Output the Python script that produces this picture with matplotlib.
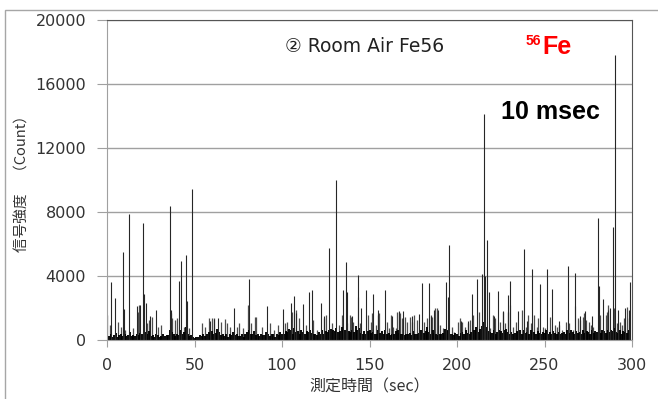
import matplotlib.pyplot as plt
from matplotlib.patches import Rectangle

# tall peaks: time (sec), counts
spike_t = [2.3, 4.8, 9.3, 9.6, 12.8, 17.3, 19.0, 20.8, 21.4, 22.0, 24.5, 27.8,
           36.0, 36.6, 41.0, 42.3, 45.1, 45.5, 48.6, 59.0, 61.0, 63.2, 72.6,
           81.1, 91.2, 100.4, 105.0, 106.9, 108.0, 112.0, 115.4, 117.3, 122.3,
           124.0, 127.0, 130.7, 135.0, 136.6, 137.0, 140.0, 143.2, 143.6, 145.0,
           148.0, 152.2, 155.0, 158.7, 163.0, 167.0, 169.0, 174.0, 178.0, 179.8,
           184.2, 185.0, 187.0, 189.0, 193.7, 195.2, 195.0, 202.0, 206.0, 208.8,
           211.2, 214.3, 215.4, 215.9, 217.3, 218.0, 221.0, 223.4, 226.0, 229.0,
           230.5, 230.0, 235.0, 238.1, 240.0, 243.0, 247.6, 251.4, 254.1, 258.0,
           263.2, 267.6, 267.5, 270.0, 273.0, 277.0, 280.4, 280.9, 283.2, 286.0,
           287.5, 289.0, 290.3, 292.0, 296.0, 298.0, 299.0]
spike_h = [3600, 2600, 5500, 1950, 7870, 2100, 2200, 7290, 2900, 2300, 1500, 1900,
           8370, 1900, 3700, 4960, 5330, 2440, 9420, 1200, 1300, 1400, 2000,
           3790, 2130, 1950, 2300, 2750, 1700, 2250, 3000, 3100, 2300,
           1500, 5730, 10000, 3100, 4900, 3000, 1500, 4040, 2700, 2000,
           3100, 2900, 1900, 3100, 1500, 1800, 1800, 1500, 1600, 3540,
           3540, 1500, 1900, 1900, 3600, 5940, 2700, 1200, 1200, 2900,
           3800, 4100, 14100, 4000, 6250, 3000, 1500, 3080, 1800, 2800,
           3700, 2200, 1800, 5670, 1200, 4420, 3500, 4420, 3200, 1200,
           4620, 4170, 2100, 1500, 1800, 1500, 7600, 3400, 2560, 1900,
           2000, 7080, 17800, 1900, 2000, 1900, 3600]

# medium peaks (about 500-2200 counts)
mid_t = [0.0, 1.5, 6.0, 7.8, 10.5, 15.0, 17.7, 18.5, 22.8, 24.1, 25.5, 29.3,
         31.0, 36.3, 37.3, 38.6, 39.8, 44.0, 47.0, 54.1, 56.0, 58.3, 59.8, 61.4,
         65.0, 67.2, 68.7, 70.0, 74.3, 75.6, 77.5, 80.5, 82.2, 84.3, 85.2, 88.4,
         93.2, 95.7, 97.6, 101.5, 102.9, 105.8, 108.0, 109.5, 113.5, 117.6,
         119.8, 124.0, 125.3, 128.5, 132.8, 134.3, 137.3, 138.6, 139.5, 140.8,
         144.8, 149.2, 150.6, 151.4, 153.6, 155.0, 155.6, 160.0, 161.3, 162.0,
         163.5, 165.0, 165.9, 166.7, 167.6, 168.6, 170.1, 171.6, 173.0, 174.0,
         175.3, 176.9, 181.3, 182.9, 184.9, 185.8, 187.3, 188.8, 190.2, 192.1,
         196.9, 198.5, 200.4, 201.7, 202.6, 204.5, 206.0, 207.4, 209.0, 212.7,
         219.1, 220.4, 221.7, 224.7, 226.0, 227.5, 229.2, 232.0, 233.9, 236.9,
         239.5, 240.8, 242.0, 244.0, 245.5, 246.5, 248.9, 250.2, 252.9, 255.8,
         257.4, 258.3, 260.2, 262.1, 264.2, 266.1, 269.0, 270.5, 271.8, 272.4,
         273.7, 275.2, 276.5, 277.8, 281.5, 285.0, 285.7, 286.3, 289.8, 291.3,
         293.2, 294.2, 295.7, 297.1, 298.3]
mid_h = [1560, 940, 1150, 830, 600, 730, 1770, 2180, 1040, 1250, 1460, 830,
         940, 1660, 1350, 1250, 1350, 830, 730, 1040, 830, 1400, 1350, 1350,
         1150, 1300, 1040, 830, 830, 1040, 730, 2180, 1040, 1460, 1460, 830,
         1040, 600, 940, 1040, 1150, 1770, 1870, 1350, 940, 1250,
         600, 1350, 1560, 1040, 940, 1560, 1040, 1560, 1460, 1150,
         1040, 1560, 1150, 1660, 940, 1560, 1660, 1150, 730, 1560,
         830, 730, 1770, 1770, 1660, 1350, 1460, 1150, 1460, 1150,
         1560, 1250, 1150, 1350, 1560, 1460, 1980, 1980, 940, 730,
         830, 520, 1150, 1350, 1150, 830, 1040, 1250, 1560, 1770,
         730, 1560, 1350, 1150, 1770, 1040, 1770, 830, 1150, 1870,
         830, 1560, 1040, 1560, 830, 1350, 830, 730, 1460, 940,
         830, 940, 600, 1150, 1040, 600, 1350, 1250, 1460, 1660,
         1250, 1150, 940, 830, 1560, 1560, 1770, 2180, 1980, 1040,
         1150, 940, 1350, 2080, 1350]

# dense background level, one value per second (0..299)
bg = [500, 250, 350, 200, 300, 450, 200, 300, 350, 250,
      400, 250, 300, 500, 250, 300, 250, 400, 300, 450,
      350, 700, 500, 350, 550, 250, 300, 200, 400, 300,
      200, 250, 400, 250, 300, 300, 600, 500, 350, 250,
      400, 300, 600, 350, 500, 800, 350, 250, 300, 200,
      150, 200, 200, 300, 250, 400, 250, 350, 500, 300,
      550, 350, 450, 700, 500, 300, 400, 250, 350, 200,
      350, 300, 500, 300, 400, 250, 250, 350, 200, 350,
      500, 650, 400, 350, 550, 300, 400, 250, 400, 300,
      300, 500, 350, 250, 350, 400, 200, 350, 300, 500,
      400, 350, 550, 500, 700, 600, 400, 750, 500, 550,
      350, 600, 500, 400, 550, 500, 650, 450, 350, 400,
      300, 500, 400, 600, 350, 550, 500, 600, 700, 600,
      550, 750, 500, 550, 800, 650, 600, 900, 550, 500,
      650, 500, 900, 600, 750, 450, 400, 550, 350, 550,
      600, 450, 500, 350, 400, 650, 450, 550, 400, 600,
      350, 450, 300, 400, 350, 550, 600, 450, 400, 350,
      300, 400, 350, 450, 300, 550, 400, 350, 450, 600,
      650, 450, 550, 800, 500, 400, 600, 450, 350, 300,
      400, 350, 450, 700, 550, 600, 400, 350, 300, 450,
      350, 250, 450, 500, 400, 600, 450, 350, 500, 650,
      600, 800, 500, 700, 900, 1100, 650, 800, 550, 500,
      450, 600, 400, 500, 650, 550, 450, 600, 700, 500,
      400, 500, 350, 450, 550, 500, 600, 400, 650, 450,
      500, 400, 600, 450, 500, 350, 550, 450, 400, 500,
      450, 600, 350, 500, 400, 550, 450, 350, 500, 400,
      450, 500, 400, 600, 450, 650, 500, 400, 550, 450,
      500, 400, 600, 450, 550, 500, 400, 600, 450, 550,
      500, 700, 450, 600, 550, 450, 650, 500, 600, 550,
      750, 500, 450, 600, 400, 550, 500, 450, 650, 600]
bg_t = list(range(len(bg)))

x_ticks = [0, 50, 100, 150, 200, 250, 300]
y_ticks = [0, 4000, 8000, 12000, 16000, 20000]

fig = plt.figure(figsize=(6.58, 3.99), dpi=100)
fig.patches.append(Rectangle((5 / 658, -0.01), 1.2, 1 - 10 / 399 + 0.01,
                             transform=fig.transFigure, fill=False,
                             edgecolor='#a6a6a6', linewidth=1.0))

ax = fig.add_axes([107 / 658, 1 - 340 / 399, 525 / 658, 320 / 399])
ax.vlines(mid_t, 0, mid_h, color='#4d4d4d', linewidth=0.9)
ax.vlines(bg_t, 0, bg, color='black', linewidth=1.35)
ax.vlines(spike_t, 0, spike_h, color='#262626', linewidth=0.8)

ax.set_xlim(0, 300)
ax.set_ylim(0, 20000)
ax.set_xticks(x_ticks)
ax.set_yticks(y_ticks)
ax.grid(axis='y', color='#a0a0a0', linewidth=1.0)
ax.set_axisbelow(True)

ax.spines['left'].set_color('#a0a0a0')
ax.spines['bottom'].set_color('#a0a0a0')
ax.spines['top'].set_color('#555555')
ax.spines['right'].set_color('#555555')
ax.tick_params(axis='y', length=7, color='#a0a0a0', pad=8, labelsize=11.5,
               labelcolor='#333333')
ax.tick_params(axis='x', length=5, color='#a0a0a0', pad=8, labelsize=11.5,
               labelcolor='#333333')

jp = ['Noto Sans CJK JP', 'DejaVu Sans']
ax.set_xlabel('測定時間（sec）', family=jp, fontsize=11.5, color='#333333',
              labelpad=4)
ax.set_ylabel('信号強度　（Count）', family=jp, fontsize=10.5, color='#333333',
              labelpad=4)

fig.text(365 / 658, 1 - 47 / 399, '② Room Air Fe56', family='DejaVu Sans',
         fontsize=13.5, color='#222222', ha='center', va='center')
fig.text(541 / 658, 1 - 41 / 399, '56', family='Liberation Sans',
         weight='bold', fontsize=10, color='red', ha='right', va='center')
fig.text(542 / 658, 1 - 47 / 399, 'Fe', family='Liberation Sans',
         weight='bold', fontsize=18, color='red', ha='left', va='center')
fig.text(550 / 658, 1 - 112 / 399, '10 msec', family='Liberation Sans',
         weight='bold', fontsize=18, color='black', ha='center', va='center')

fig.savefig('out.png', dpi=100)
